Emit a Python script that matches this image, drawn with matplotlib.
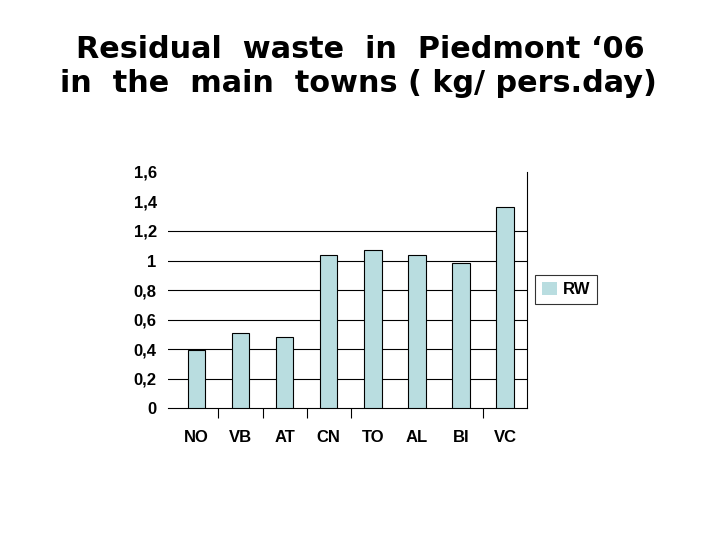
import matplotlib
matplotlib.use("Agg")
import matplotlib.pyplot as plt
from matplotlib.patches import Patch

towns = ["NO", "VB", "AT", "CN", "TO", "AL", "BI", "VC"]
rw = [0.39, 0.51, 0.48, 1.04, 1.07, 1.04, 0.98, 1.36]
yticks = [0, 0.2, 0.4, 0.6, 0.8, 1.0, 1.2, 1.4, 1.6]
ylabels = ["0", "0,2", "0,4", "0,6", "0,8", "1", "1,2", "1,4", "1,6"]
grid_levels = [0.2, 0.4, 0.6, 0.8, 1.0, 1.2]
sep_ticks = [0.5, 1.5, 2.5, 3.5, 6.5]
title_lines = ["Residual  waste  in  Piedmont \u201806",
               "in  the  main  towns ( kg/ pers.day)"]

plt.rcParams['font.family'] = ['Liberation Sans', 'DejaVu Sans']

fig = plt.figure(figsize=(7.2, 5.4), dpi=100)
fig.patch.set_facecolor('white')

fig.text(0.5, 1 - 58 / 540, title_lines[0], ha='center', va='baseline',
         fontsize=21.8, fontweight='bold', family=['DejaVu Sans'])
fig.text(0.4975, 1 - 92 / 540, title_lines[1], ha='center', va='baseline',
         fontsize=21.8, fontweight='bold', family=['DejaVu Sans'])

ax = fig.add_axes([0.233, 0.2444, 0.499, 0.4371])
x = list(range(len(towns)))
ax.bar(x, rw, width=0.4, color='#B9DDE0', edgecolor='black', linewidth=0.8, zorder=3)
for g in grid_levels:
    ax.axhline(g, color='black', linewidth=0.8, zorder=1)

ax.set_xlim(-0.65, 7.5)
ax.set_ylim(0, 1.6)
ax.set_yticks(yticks)
ax.set_yticklabels(ylabels, fontsize=12, fontweight='bold')
ax.tick_params(axis='y', length=0, pad=8)
ax.set_xticks(x)
ax.set_xticklabels(towns, fontsize=12, fontweight='bold')
ax.tick_params(axis='x', which='major', length=0, pad=16)
ax.set_xticks(sep_ticks, minor=True)
ax.tick_params(axis='x', which='minor', length=7, width=0.8, direction='out')

for s in ['left', 'top']:
    ax.spines[s].set_visible(False)
ax.spines['right'].set_linewidth(0.8)
ax.spines['bottom'].set_linewidth(0.8)

leg = fig.legend(handles=[Patch(facecolor='#B9DDE0', edgecolor='none', label='RW')],
                 loc='upper left', bbox_to_anchor=(0.743, 0.491), frameon=True,
                 fancybox=False, prop={'size': 12, 'weight': 'bold'},
                 handlelength=0.9, handleheight=0.9, handletextpad=0.4,
                 borderpad=0.4, borderaxespad=0)
leg.get_frame().set_edgecolor('black')
leg.get_frame().set_linewidth(0.8)

fig.savefig('out.png', dpi=100, facecolor='white')
